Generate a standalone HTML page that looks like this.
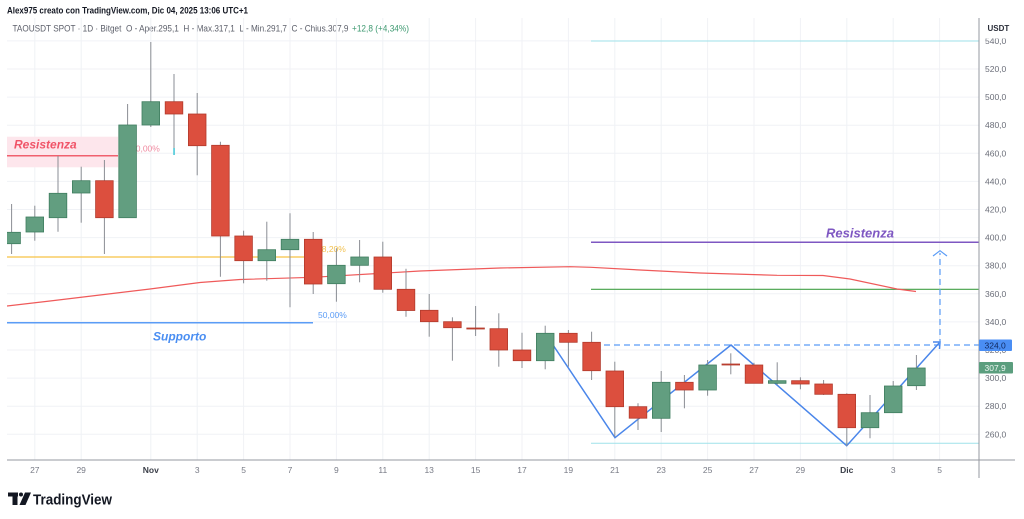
<!DOCTYPE html>
<html><head><meta charset="utf-8"><style>
html,body{margin:0;padding:0;background:#fff;}
svg{display:block;font-family:"Liberation Sans",Arial,sans-serif;}
.pre{white-space:pre;}
</style></head><body>
<svg width="1024" height="519" viewBox="0 0 1024 519" xmlns="http://www.w3.org/2000/svg">
<defs><clipPath id="cp"><rect x="7" y="18" width="972" height="442"/></clipPath></defs>
<rect width="1024" height="519" fill="#fff"/>

<!-- header -->
<text x="7" y="13.5" font-size="9" font-weight="bold" fill="#131722" textLength="241" lengthAdjust="spacingAndGlyphs">Alex975 creato con TradingView.com, Dic 04, 2025 13:06 UTC+1</text>
<text class="pre" xml:space="preserve" x="12.5" y="31.5" font-size="9" fill="#5d606b" textLength="336" lengthAdjust="spacingAndGlyphs">TAOUSDT SPOT · 1D · Bitget  O - Aper.295,1  H - Max.317,1  L - Min.291,7  C - Chius.307,9</text>
<text x="352" y="31.5" font-size="9" fill="#3d9970" textLength="57" lengthAdjust="spacingAndGlyphs">+12,8 (+4,34%)</text>

<g clip-path="url(#cp)">
<!-- grid -->
<g stroke="#f0f2f6" stroke-width="1">
<line x1="7" x2="979" y1="40.9" y2="40.9"/><line x1="7" x2="979" y1="69" y2="69"/><line x1="7" x2="979" y1="97.1" y2="97.1"/><line x1="7" x2="979" y1="125.2" y2="125.2"/><line x1="7" x2="979" y1="153.3" y2="153.3"/><line x1="7" x2="979" y1="181.4" y2="181.4"/><line x1="7" x2="979" y1="209.5" y2="209.5"/><line x1="7" x2="979" y1="237.6" y2="237.6"/><line x1="7" x2="979" y1="265.7" y2="265.7"/><line x1="7" x2="979" y1="293.8" y2="293.8"/><line x1="7" x2="979" y1="321.9" y2="321.9"/><line x1="7" x2="979" y1="350" y2="350"/><line x1="7" x2="979" y1="378.1" y2="378.1"/><line x1="7" x2="979" y1="406.2" y2="406.2"/><line x1="7" x2="979" y1="434.3" y2="434.3"/>
<line y1="18" y2="460" x1="34.8" x2="34.8"/><line y1="18" y2="460" x1="81.2" x2="81.2"/><line y1="18" y2="460" x1="150.8" x2="150.8"/><line y1="18" y2="460" x1="197.2" x2="197.2"/><line y1="18" y2="460" x1="243.6" x2="243.6"/><line y1="18" y2="460" x1="290" x2="290"/><line y1="18" y2="460" x1="336.4" x2="336.4"/><line y1="18" y2="460" x1="382.8" x2="382.8"/><line y1="18" y2="460" x1="429.2" x2="429.2"/><line y1="18" y2="460" x1="475.6" x2="475.6"/><line y1="18" y2="460" x1="522" x2="522"/><line y1="18" y2="460" x1="568.4" x2="568.4"/><line y1="18" y2="460" x1="614.8" x2="614.8"/><line y1="18" y2="460" x1="661.2" x2="661.2"/><line y1="18" y2="460" x1="707.6" x2="707.6"/><line y1="18" y2="460" x1="754" x2="754"/><line y1="18" y2="460" x1="800.4" x2="800.4"/><line y1="18" y2="460" x1="846.8" x2="846.8"/><line y1="18" y2="460" x1="893.2" x2="893.2"/><line y1="18" y2="460" x1="939.6" x2="939.6"/>
</g>

<!-- left resistance zone -->
<rect x="7" y="136.7" width="111" height="30.6" fill="#fde6ec"/>
<line x1="7" x2="118" y1="155.7" y2="155.7" stroke="#f0606e" stroke-width="1.5"/>
<text x="14" y="148.5" font-size="12" font-weight="bold" font-style="italic" fill="#f05468">Resistenza</text>
<text x="131" y="151.5" font-size="8.5" fill="#f08aa0">50,00%</text>
<rect x="173.3" y="148" width="1.5" height="7" fill="#3fc6d6"/>

<!-- fib lines -->
<line x1="7" x2="305" y1="257" y2="257" stroke="#f6c244" stroke-width="1.2"/>
<text x="317" y="252" font-size="8.5" fill="#f2c150">38,20%</text>
<line x1="7" x2="313" y1="322.7" y2="322.7" stroke="#5b9cf6" stroke-width="1.5"/>
<text x="318" y="318" font-size="8.5" fill="#5b9cf6">50,00%</text>
<text x="153" y="340.5" font-size="12" font-weight="bold" font-style="italic" fill="#4a8ef2">Supporto</text>

<!-- right lines -->
<line x1="591" x2="979" y1="41" y2="41" stroke="#9fe2ea" stroke-width="1"/>
<line x1="591" x2="979" y1="443.3" y2="443.3" stroke="#9fe2ea" stroke-width="1"/>
<line x1="591" x2="979" y1="242.3" y2="242.3" stroke="#7e57c2" stroke-width="1.5"/>
<text x="826" y="237.5" font-size="13" font-weight="bold" font-style="italic" fill="#7e57c2">Resistenza</text>
<line x1="591" x2="979" y1="289.3" y2="289.3" stroke="#43a047" stroke-width="1.2"/>
<line x1="604" x2="979" y1="345" y2="345" stroke="#5b9cf6" stroke-width="1.2" stroke-dasharray="6 4"/>

<!-- MA -->
<polyline fill="none" stroke="#ef5a5a" stroke-width="1.2" points="7,306 50,301 100,295 150,289 200,282.5 240,279.5 313,277.3 420,271 500,268 570,266.7 591,267.3 640,270 700,273 777,275.3 823,275.5 850,279 897,289 916,291.5"/>

<!-- zigzag -->
<polyline fill="none" stroke="#4a86ea" stroke-width="1.5" points="545,333 615,437.7 731,345 846.7,445.7 940,342"/>
<polyline fill="none" stroke="#4a86ea" stroke-width="1.5" points="933,342 940,342 939.5,349"/>
<line x1="940" x2="940" y1="345" y2="253" stroke="#5b9cf6" stroke-width="1.2" stroke-dasharray="6 4"/>
<polyline fill="none" stroke="#5b9cf6" stroke-width="1.2" points="933,256 940,250.7 947,256"/>

<!-- candles -->
<g stroke="#8a8d94" stroke-width="1">
<line x1="11.6" x2="11.6" y1="204" y2="254"/>
<line x1="34.8" x2="34.8" y1="205.7" y2="240.7"/>
<line x1="58" x2="58" y1="156" y2="231.7"/>
<line x1="81.2" x2="81.2" y1="166.7" y2="222.7"/>
<line x1="104.4" x2="104.4" y1="160" y2="254"/>
<line x1="127.6" x2="127.6" y1="104" y2="217.7"/>
<line x1="150.8" x2="150.8" y1="42" y2="127"/>
<line x1="174" x2="174" y1="74" y2="148"/>
<line x1="197.2" x2="197.2" y1="93" y2="175.3"/>
<line x1="220.4" x2="220.4" y1="141.7" y2="276.7"/>
<line x1="243.6" x2="243.6" y1="230.7" y2="283.3"/>
<line x1="266.8" x2="266.8" y1="221.7" y2="280.7"/>
<line x1="290" x2="290" y1="213.3" y2="307.3"/>
<line x1="313.2" x2="313.2" y1="232" y2="294"/>
<line x1="336.4" x2="336.4" y1="248.3" y2="301.7"/>
<line x1="359.6" x2="359.6" y1="240" y2="282.3"/>
<line x1="382.8" x2="382.8" y1="241.7" y2="292.7"/>
<line x1="406" x2="406" y1="268.7" y2="316.7"/>
<line x1="429.2" x2="429.2" y1="294" y2="336.7"/>
<line x1="452.4" x2="452.4" y1="317.3" y2="360.7"/>
<line x1="475.6" x2="475.6" y1="306" y2="336"/>
<line x1="498.8" x2="498.8" y1="313.3" y2="366.7"/>
<line x1="522" x2="522" y1="332.7" y2="368"/>
<line x1="545.2" x2="545.2" y1="325.7" y2="369.3"/>
<line x1="568.4" x2="568.4" y1="330" y2="366.7"/>
<line x1="591.6" x2="591.6" y1="331.7" y2="380"/>
<line x1="614.8" x2="614.8" y1="361.7" y2="436.7"/>
<line x1="638" x2="638" y1="403.3" y2="430"/>
<line x1="661.2" x2="661.2" y1="371" y2="432"/>
<line x1="684.4" x2="684.4" y1="375" y2="408.3"/>
<line x1="707.6" x2="707.6" y1="360" y2="395.7"/>
<line x1="730.8" x2="730.8" y1="353.3" y2="374.3"/>
<line x1="754" x2="754" y1="362.7" y2="383.3"/>
<line x1="777.2" x2="777.2" y1="362.3" y2="385"/>
<line x1="800.4" x2="800.4" y1="377.3" y2="389.3"/>
<line x1="823.6" x2="823.6" y1="380" y2="395"/>
<line x1="846.8" x2="846.8" y1="393.3" y2="446"/>
<line x1="870" x2="870" y1="395" y2="438.3"/>
<line x1="893.2" x2="893.2" y1="381" y2="413"/>
<line x1="916.4" x2="916.4" y1="355" y2="390"/>
</g>
<g fill="#629e80" stroke="#3f7d5f" stroke-width="0.8">
<rect x="2.8" y="232.3" width="17.6" height="11.4"/>
<rect x="26" y="217" width="17.6" height="15"/>
<rect x="49.2" y="193.3" width="17.6" height="24.4"/>
<rect x="72.4" y="180.7" width="17.6" height="12.3"/>
<rect x="118.8" y="125" width="17.6" height="92.7"/>
<rect x="142" y="101.7" width="17.6" height="23.3"/>
<rect x="258" y="249.7" width="17.6" height="11"/>
<rect x="281.2" y="239.3" width="17.6" height="10.4"/>
<rect x="327.6" y="265.3" width="17.6" height="18.4"/>
<rect x="350.8" y="257" width="17.6" height="8.3"/>
<rect x="536.4" y="333.3" width="17.6" height="27.4"/>
<rect x="652.4" y="382.3" width="17.6" height="36"/>
<rect x="698.8" y="365" width="17.6" height="25"/>
<rect x="768.4" y="380.7" width="17.6" height="2.6"/>
<rect x="861.2" y="412.7" width="17.6" height="15"/>
<rect x="884.4" y="386" width="17.6" height="26.7"/>
<rect x="907.6" y="368" width="17.6" height="17.7"/>
</g>
<g fill="#dc4f3e" stroke="#b23a2c" stroke-width="0.8">
<rect x="95.6" y="180.7" width="17.6" height="37"/>
<rect x="165.2" y="101.7" width="17.6" height="12.3"/>
<rect x="188.4" y="114" width="17.6" height="31.7"/>
<rect x="211.6" y="145.3" width="17.6" height="90.7"/>
<rect x="234.8" y="236" width="17.6" height="24.7"/>
<rect x="304.4" y="239.3" width="17.6" height="44.7"/>
<rect x="374" y="257" width="17.6" height="32.3"/>
<rect x="397.2" y="289.3" width="17.6" height="21.2"/>
<rect x="420.4" y="310.3" width="17.6" height="11.4"/>
<rect x="443.6" y="321.7" width="17.6" height="6"/>
<rect x="466.8" y="328" width="17.6" height="1"/>
<rect x="490" y="328.7" width="17.6" height="21.3"/>
<rect x="513.2" y="350" width="17.6" height="10.7"/>
<rect x="559.6" y="333.3" width="17.6" height="9"/>
<rect x="582.8" y="342.3" width="17.6" height="28.4"/>
<rect x="606" y="371" width="17.6" height="35.7"/>
<rect x="629.2" y="406.7" width="17.6" height="11.5"/>
<rect x="675.6" y="382.3" width="17.6" height="7.7"/>
<rect x="722" y="364" width="17.6" height="1"/>
<rect x="745.2" y="365" width="17.6" height="18.3"/>
<rect x="791.6" y="380.7" width="17.6" height="3.3"/>
<rect x="814.8" y="384" width="17.6" height="10.3"/>
<rect x="838" y="394.3" width="17.6" height="33.4"/>
</g>
</g>

<!-- axes -->
<line x1="979" x2="979" y1="18" y2="478" stroke="#9598a1" stroke-width="1"/>
<line x1="7" x2="1015" y1="460" y2="460" stroke="#9598a1" stroke-width="1"/>

<!-- price labels -->
<g font-size="8.5" fill="#6a6d78">
<text x="985" y="44">540,0</text>
<text x="985" y="72">520,0</text>
<text x="985" y="100">500,0</text>
<text x="985" y="128">480,0</text>
<text x="985" y="156.3">460,0</text>
<text x="985" y="184.4">440,0</text>
<text x="985" y="212.5">420,0</text>
<text x="985" y="240.6">400,0</text>
<text x="985" y="268.7">380,0</text>
<text x="985" y="296.8">360,0</text>
<text x="985" y="324.9">340,0</text>
<text x="985" y="353">320,0</text>
<text x="985" y="381.1">300,0</text>
<text x="985" y="409.2">280,0</text>
<text x="985" y="437.3">260,0</text>
</g>
<rect x="980" y="18" width="44" height="20.5" fill="#fff"/>
<text x="987.5" y="31" font-size="8" font-weight="bold" fill="#2a2e39">USDT</text>
<rect x="979" y="339.5" width="33" height="11.5" rx="1" fill="#4a8ef4"/>
<text x="984.5" y="348.3" font-size="8.5" fill="#10285e">324,0</text>
<rect x="979" y="362" width="34" height="11.5" rx="1" fill="#5b9e7e"/>
<text x="984.5" y="370.8" font-size="8.5" fill="#eef7f2">307,9</text>

<!-- date labels -->
<g font-size="8.5" fill="#787b86" text-anchor="middle">
<text x="34.8" y="473">27</text>
<text x="81.2" y="473">29</text>
<text x="150.8" y="473" font-weight="bold" fill="#3a3e48">Nov</text>
<text x="197.2" y="473">3</text>
<text x="243.6" y="473">5</text>
<text x="290" y="473">7</text>
<text x="336.4" y="473">9</text>
<text x="382.8" y="473">11</text>
<text x="429.2" y="473">13</text>
<text x="475.6" y="473">15</text>
<text x="522" y="473">17</text>
<text x="568.4" y="473">19</text>
<text x="614.8" y="473">21</text>
<text x="661.2" y="473">23</text>
<text x="707.6" y="473">25</text>
<text x="754" y="473">27</text>
<text x="800.4" y="473">29</text>
<text x="846.8" y="473" font-weight="bold" fill="#3a3e48">Dic</text>
<text x="893.2" y="473">3</text>
<text x="939.6" y="473">5</text>
</g>

<!-- logo -->
<g fill="#131722">
<rect x="8" y="492.5" width="10" height="4"/>
<rect x="12.5" y="492.5" width="5" height="12.5"/>
<circle cx="21" cy="494.5" r="2"/>
<polygon points="25,492.5 31,492.5 25.5,505 19.5,505"/>
</g>
<text x="33" y="504.5" font-size="15" font-weight="bold" fill="#131722" textLength="79" lengthAdjust="spacingAndGlyphs">TradingView</text>
</svg>
</body></html>
